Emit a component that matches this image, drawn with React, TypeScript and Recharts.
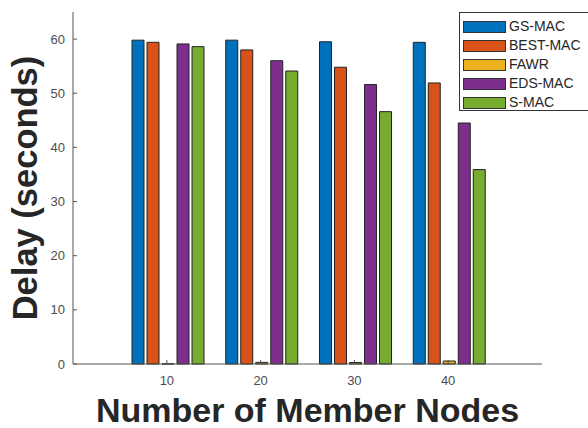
import React from 'react';
import { BarChart, Bar, XAxis, YAxis, Legend, Label } from 'recharts';

// Member-node counts on the x axis
const nodeCounts = [10, 20, 30, 40];

// Delay in seconds for each protocol
const gsMac = [59.8, 59.8, 59.5, 59.4];
const bestMac = [59.4, 58.0, 54.8, 51.9];
const fawr = [0.02, 0.3, 0.28, 0.55];
const edsMac = [59.1, 56.0, 51.6, 44.5];
const sMac = [58.6, 54.1, 46.6, 35.9];

const yTicks = [0, 10, 20, 30, 40, 50, 60];

const seriesNames = ['GS-MAC', 'BEST-MAC', 'FAWR', 'EDS-MAC', 'S-MAC'];
const seriesKeys = ['gs', 'best', 'fawr', 'eds', 's'];
const seriesColors = ['#0072BD', '#D95319', '#EDB120', '#7E2F8E', '#77AC30'];

const rows = nodeCounts.map((n, i) => ({
  nodes: n,
  gs: gsMac[i],
  best: bestMac[i],
  fawr: fawr[i],
  eds: edsMac[i],
  s: sMac[i],
}));

const FONT = '"Liberation Sans", Arial, Helvetica, sans-serif';
const AXIS_COLOR = '#555555';
const TICK_TEXT = { fill: '#4d4d4d', fontSize: 13, fontFamily: FONT };

const XTitle = (props: any) => {
  const vb = props.viewBox || {};
  return (
    <text
      x={vb.x + vb.width / 2}
      y={vb.y + 58}
      textAnchor="middle"
      fontFamily={FONT}
      fontWeight="bold"
      fontSize={34}
      fill="#262626"
    >
      Number of Member Nodes
    </text>
  );
};

const YTitle = (props: any) => {
  const vb = props.viewBox || {};
  const cx = 36.5;
  const cy = vb.y + vb.height / 2;
  return (
    <text
      x={cx}
      y={cy}
      transform={`rotate(-90, ${cx}, ${cy})`}
      textAnchor="middle"
      fontFamily={FONT}
      fontWeight="bold"
      fontSize={34.5}
      fill="#262626"
    >
      Delay (seconds)
    </text>
  );
};

// Legend entries in plotting order
const LegendBox = (props: any) => {
  const payload = [...(props.payload || [])].sort(
    (a: any, b: any) => seriesNames.indexOf(a.value) - seriesNames.indexOf(b.value)
  );
  return (
    <div
      style={{
        border: '1px solid #333',
        background: '#fff',
        boxSizing: 'border-box',
        width: 140,
        height: 99,
        paddingTop: 4,
        paddingLeft: 3,
        fontFamily: FONT,
        fontSize: 14,
        color: '#262626',
      }}
    >
      {payload.map((entry: any) => (
        <div
          key={entry.value}
          style={{ display: 'flex', alignItems: 'center', height: 19 }}
        >
          <div
            style={{
              width: 43,
              height: 12,
              background: entry.color,
              border: '1px solid #333',
              boxSizing: 'border-box',
              marginRight: 3,
            }}
          />
          <span style={{ lineHeight: '19px' }}>{entry.value}</span>
        </div>
      ))}
    </div>
  );
};

export default function App() {
  return (
    <div
      style={{
        position: 'absolute',
        left: 0,
        top: 0,
        width: 588,
        height: 428,
        background: '#fff',
        overflow: 'hidden',
      }}
    >
      <BarChart
        width={588}
        height={428}
        data={rows}
        margin={{ top: 12, right: 46, bottom: 0, left: 0 }}
        barGap={3}
        barCategoryGap={12}
      >
        <XAxis
          dataKey="nodes"
          height={64}
          padding={{ left: 47, right: 47 }}
          stroke={AXIS_COLOR}
          tickSize={-4}
          tickMargin={16}
          tick={TICK_TEXT}
        >
          <Label content={<XTitle />} />
        </XAxis>
        <XAxis
          xAxisId="top"
          dataKey="nodes"
          orientation="top"
          height={0}
          padding={{ left: 47, right: 47 }}
          stroke={AXIS_COLOR}
          tickSize={-4}
          tick={false}
        />
        <YAxis
          width={73}
          domain={[0, 65]}
          ticks={yTicks}
          interval={0}
          stroke={AXIS_COLOR}
          tickSize={-4}
          tickMargin={12}
          tick={TICK_TEXT}
        >
          <Label content={<YTitle />} />
        </YAxis>
        <YAxis
          yAxisId="right"
          orientation="right"
          width={0}
          domain={[0, 65]}
          ticks={yTicks}
          interval={0}
          stroke={AXIS_COLOR}
          tickSize={-4}
          tick={false}
        />
        <Legend
          layout="vertical"
          align="center"
          verticalAlign="middle"
          itemSorter={null as any}
          content={<LegendBox />}
          wrapperStyle={{ left: 459, top: 12, width: 140, height: 99 }}
        />
        {seriesKeys.map((k, i) => (
          <Bar
            key={k}
            dataKey={k}
            name={seriesNames[i]}
            fill={seriesColors[i]}
            stroke="#222"
            strokeWidth={1}
            isAnimationActive={false}
          />
        ))}
      </BarChart>
    </div>
  );
}
